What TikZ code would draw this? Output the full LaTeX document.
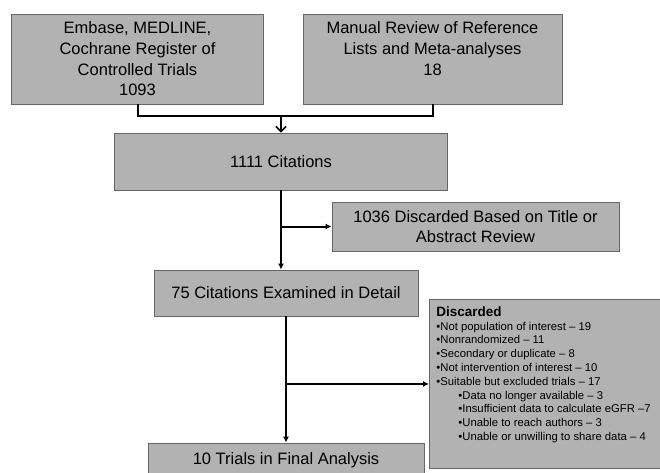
\documentclass[tikz,border=0pt]{standalone}
\usepackage{fontspec}
\setmainfont{Liberation Sans}
\usetikzlibrary{arrows.meta,positioning}

\begin{document}
\begin{tikzpicture}[
  x=1pt, y=-1pt,
  every node/.style={font=\fontsize{16.5}{20.7}\selectfont},
  box/.style={draw=black!60,line width=0.9pt,fill=black!30,align=center,inner sep=0pt},
  link/.style={line width=2pt},
  arr/.style={link,-{Latex[length=6pt,width=6pt]}},
  merge arr/.style={link,-{Straight Barb[length=5pt,width=10pt,line width=1.6pt]}}
]
\useasboundingbox (0,0) rectangle (660,472);

% sources
\node[box,minimum width=252,minimum height=90] (search) at (137.5,59)
  {Embase, MEDLINE,\\Cochrane Register of\\Controlled Trials\\1093};
\node[box,minimum width=259,minimum height=90] (manual) at (432.5,59)
  {Manual Review of Reference\\Lists and Meta-analyses\\18\\\mbox{}};

% screening
\node[box,minimum width=333,minimum height=57] (citations) at (281,161.5) {1111 Citations};
\node[box,minimum width=287,minimum height=49] (discardTitle) at (475.5,226.5)
  {1036 Discarded Based on Title or\\Abstract Review};
\node[box,minimum width=264,minimum height=46] (examined) at (286,293)
  {75 Citations Examined in Detail};

% full text exclusions
\node[box,anchor=north west,align=left,inner xsep=7pt,inner ysep=7pt] (discardDetail) at (429,299)
  {\parbox[c][155pt][t]{222pt}{\raggedright\fontsize{11.3}{13.8}\selectfont
   {\fontsize{13.5}{15}\selectfont\bfseries Discarded}\\
   •Not population of interest – 19\\
   •Nonrandomized – 11\\
   •Secondary or duplicate – 8\\
   •Not intervention of interest – 10\\
   •Suitable but excluded trials – 17\\
   \hspace*{22pt}•Data no longer available – 3\\
   \hspace*{22pt}•Insufficient data to calculate eGFR –7\\
   \hspace*{22pt}•Unable to reach authors – 3\\
   \hspace*{22pt}•Unable or unwilling to share data – 4}};
\node[box,minimum width=276,minimum height=34] (final) at (286,460) {10 Trials in Final Analysis};

% connectors
\coordinate (merge) at (281,116);
\draw[link] (search.south) |- (merge) -| (manual.south);
\draw[merge arr] (merge) -- (citations.north);

\coordinate (fork1) at (citations.south |- discardTitle.west);
\draw[arr] (citations.south) -- (citations.south |- examined.north);
\draw[arr] (fork1) -- (discardTitle.west);

\coordinate (fork2) at (examined.south |- discardDetail.west);
\draw[arr] (examined.south) -- (final.north);
\draw[arr] (fork2) -- (discardDetail.west);
\end{tikzpicture}
\end{document}
